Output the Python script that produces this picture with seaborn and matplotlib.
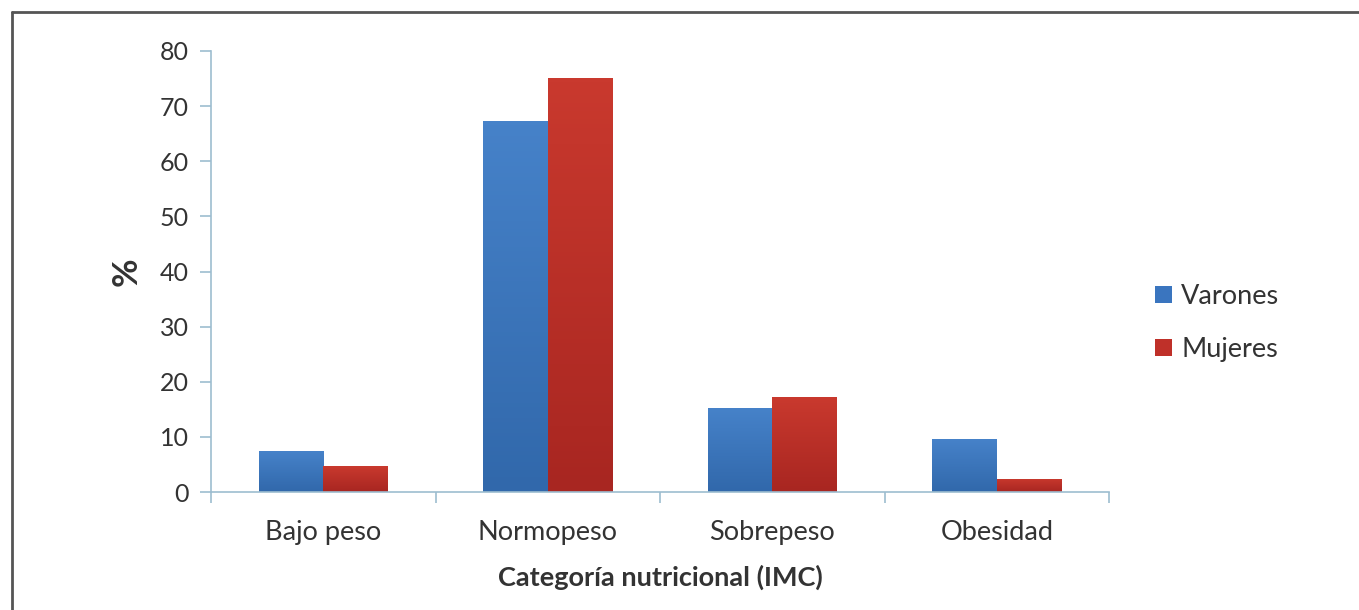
import matplotlib
matplotlib.use("Agg")
import matplotlib.pyplot as plt
import seaborn as sns
import pandas as pd
import numpy as np
from matplotlib.lines import Line2D
from matplotlib.patches import Patch
from matplotlib.colors import LinearSegmentedColormap

categories = ["Bajo peso", "Normopeso", "Sobrepeso", "Obesidad"]
varones = [7.4, 67.3, 15.2, 9.6]
mujeres = [4.7, 75.1, 17.2, 2.4]
series_names = ["Varones", "Mujeres"]
yticks = [0, 10, 20, 30, 40, 50, 60, 70, 80]

df = pd.DataFrame({
    "cat": categories * 2,
    "val": varones + mujeres,
    "serie": [series_names[0]] * 4 + [series_names[1]] * 4,
})

sns.set_theme(style="white")
plt.rcParams["font.family"] = ["Lato", "DejaVu Sans"]

text_color = "#333333"
axis_color = "#9dbdd0"
colors = {"Varones": "#3a75bf", "Mujeres": "#bf3029"}
grad = {"Varones": ("#4682c9", "#3168ab"), "Mujeres": ("#c9392e", "#a82621")}

fig = plt.figure(figsize=(13.59, 6.10), dpi=100)
ax = fig.add_axes([211 / 1359, 1 - 492 / 610, (1109 - 211) / 1359, (492 - 51) / 610])

sns.barplot(data=df, x="cat", y="val", hue="serie", palette=colors,
            width=0.575, gap=0, ax=ax, legend=False, saturation=1, linewidth=0)

ax.set_xlim(-0.5, 3.5)
ax.set_ylim(0, 80)

# subtle vertical gradient on each bar
for container, name in zip(ax.containers, series_names):
    cmap = LinearSegmentedColormap.from_list(name, [grad[name][1], grad[name][0]])
    for bar in container:
        x0, y0 = bar.get_x(), bar.get_y()
        w, h = bar.get_width(), bar.get_height()
        img = ax.imshow(np.linspace(0, 1, 100).reshape(-1, 1), cmap=cmap, aspect="auto",
                        origin="lower", extent=[x0, x0 + w, y0, y0 + h], zorder=bar.get_zorder())
        img.set_clip_path(bar)
ax.set_xlim(-0.5, 3.5)
ax.set_ylim(0, 80)

ax.set_yticks(yticks)
ax.set_yticklabels([str(t) for t in yticks], fontsize=18, color=text_color)
ax.set_xticks([0, 1, 2, 3])
ax.set_xticklabels(categories, fontsize=19.5, color=text_color)
ax.tick_params(axis="x", which="major", bottom=False, length=0, pad=20)
ax.tick_params(axis="y", left=True, length=8, width=1.2, color=axis_color, direction="out", pad=8)
ax.set_xticks([-0.5, 0.5, 1.5, 2.5, 3.5], minor=True)
ax.tick_params(axis="x", which="minor", bottom=True, length=8, width=1.2, color=axis_color,
               direction="out")

for s in ["top", "right"]:
    ax.spines[s].set_visible(False)
for s in ["left", "bottom"]:
    ax.spines[s].set_color(axis_color)
    ax.spines[s].set_linewidth(1.2)

ax.set_xlabel("Categoría nutricional (IMC)", fontsize=19.5, fontweight="bold",
              color=text_color, labelpad=14)
ax.set_ylabel("%", fontsize=25, fontweight="bold", color=text_color, labelpad=12)

handles = [Patch(facecolor=colors[n], edgecolor="none", label=n) for n in series_names]
leg = fig.legend(handles=handles, loc="center left", bbox_to_anchor=(1131 / 1359, 1 - 323 / 610),
                 frameon=False, fontsize=19.5, handlelength=0.6, handleheight=0.6,
                 handletextpad=0.35, labelspacing=1.05)
for t in leg.get_texts():
    t.set_color(text_color)

# figure frame (top and left)
fig.add_artist(Line2D([12 / 1359, 1], [1 - 12 / 610, 1 - 12 / 610], color="#555555", lw=2,
                      transform=fig.transFigure))
fig.add_artist(Line2D([12 / 1359, 12 / 1359], [0, 1 - 12 / 610], color="#555555", lw=2,
                      transform=fig.transFigure))

fig.savefig("out.png", dpi=100, facecolor="white")
